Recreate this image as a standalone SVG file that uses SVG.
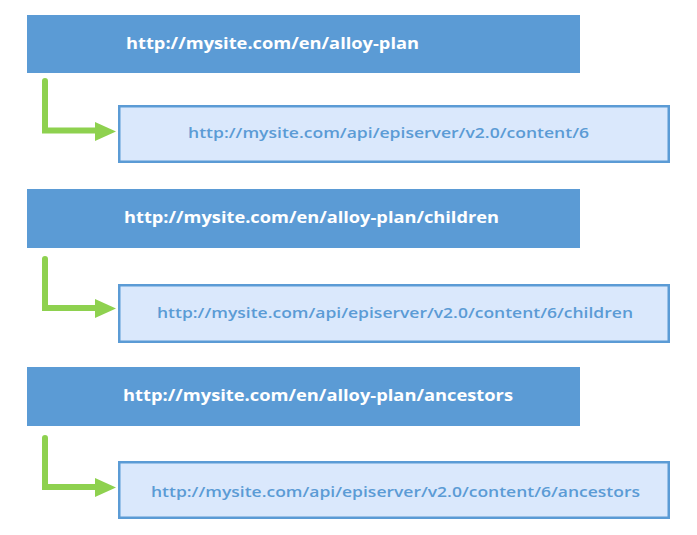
<svg xmlns="http://www.w3.org/2000/svg" width="697" height="535" viewBox="0 0 697 535">
<defs>
<style>
.src rect{fill:#5b9bd5;}
.src text{fill:#ffffff;font-family:"Open Sans","Liberation Sans",sans-serif;font-weight:700;font-size:16.5px;}
.dst rect{fill:#dae8fc;stroke:#5b9bd5;stroke-width:2.5;}
.dst text{fill:#5b9bd5;font-family:"Open Sans","Liberation Sans",sans-serif;font-weight:600;font-size:15px;}
.conn path{fill:none;stroke:#8ed14f;stroke-width:6;stroke-linecap:round;stroke-linejoin:miter;}
.conn polygon{fill:#8ed14f;}
</style>
</defs>
<rect width="697" height="535" fill="#ffffff"/>
<g id="node-src1" class="src">
<rect x="27" y="15" width="553" height="58"/>
<text x="126" y="49" textLength="293" lengthAdjust="spacingAndGlyphs">http://mysite.com/en/alloy-plan</text>
</g>
<g id="node-dst1" class="dst">
<rect x="119.25" y="106.25" width="549.5" height="55.5"/>
<text x="188" y="138" textLength="401" lengthAdjust="spacingAndGlyphs">http://mysite.com/api/episerver/v2.0/content/6</text>
</g>
<g id="node-src2" class="src">
<rect x="27" y="189" width="553" height="59"/>
<text x="124" y="223" textLength="375" lengthAdjust="spacingAndGlyphs">http://mysite.com/en/alloy-plan/children</text>
</g>
<g id="node-dst2" class="dst">
<rect x="119.25" y="285.25" width="549.5" height="56.5"/>
<text x="157" y="318" textLength="476" lengthAdjust="spacingAndGlyphs">http://mysite.com/api/episerver/v2.0/content/6/children</text>
</g>
<g id="node-src3" class="src">
<rect x="27" y="367" width="553" height="59"/>
<text x="123" y="401" textLength="390" lengthAdjust="spacingAndGlyphs">http://mysite.com/en/alloy-plan/ancestors</text>
</g>
<g id="node-dst3" class="dst">
<rect x="119.25" y="462.25" width="549.5" height="55.5"/>
<text x="151" y="497" textLength="489" lengthAdjust="spacingAndGlyphs">http://mysite.com/api/episerver/v2.0/content/6/ancestors</text>
</g>
<g id="connectors" class="conn">
<path d="M45 81 V130.5 H98"/>
<polygon points="95,122 116,131.5 95,141"/>
<path d="M45 259 V308 H98"/>
<polygon points="95,299 116,308.5 95,318"/>
<path d="M45 438 V487 H98"/>
<polygon points="95,478 116,487.5 95,497"/>
</g>
</svg>
